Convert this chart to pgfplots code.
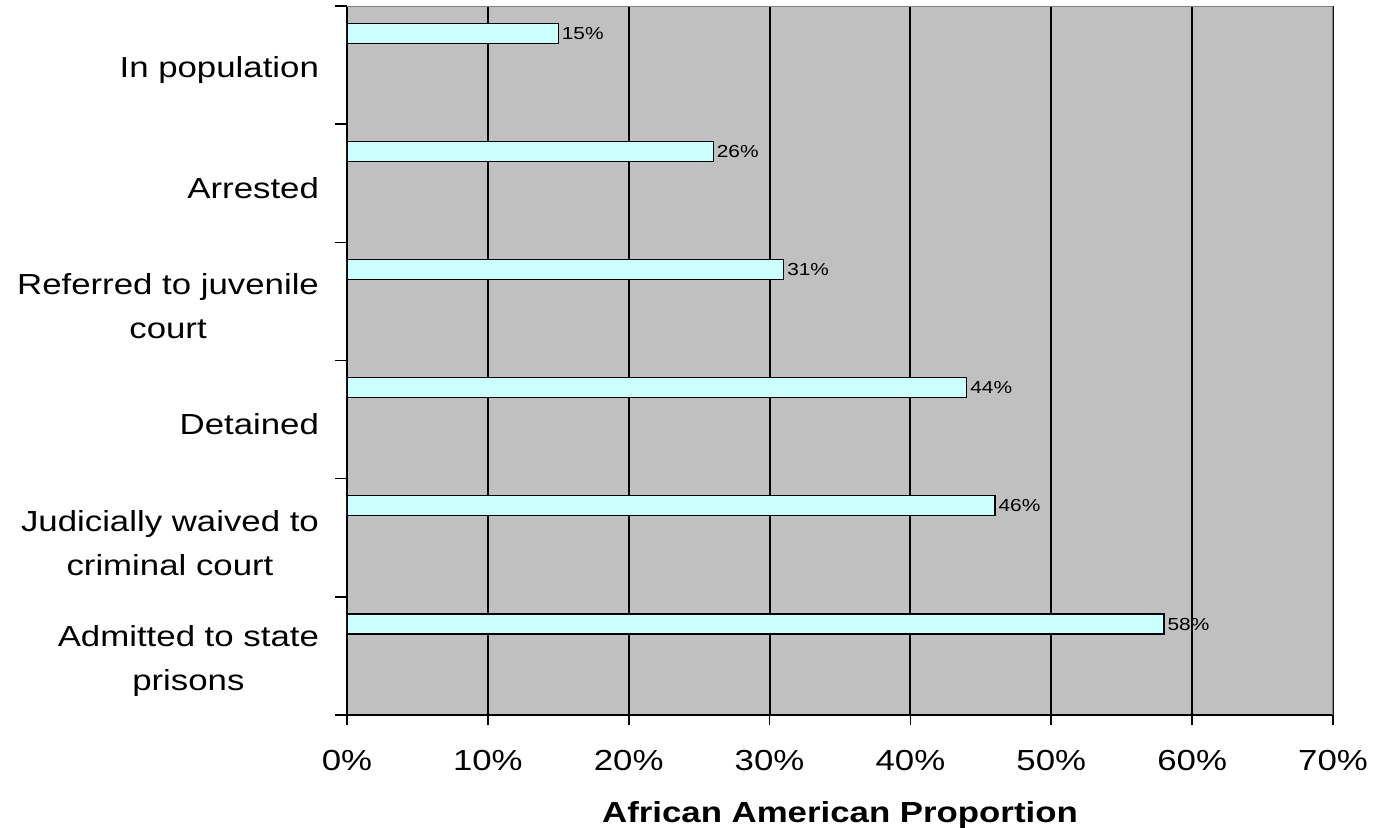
\documentclass[border=0pt]{standalone}
\usepackage{fontspec}
\setmainfont{Liberation Sans}[FakeStretch=1.2]
\usepackage{pgfplots}
\pgfplotsset{compat=1.18}
\definecolor{bgc}{HTML}{C0C0C0}
\definecolor{barc}{HTML}{CCFFFF}
\definecolor{frm}{HTML}{808080}
\begin{document}
\begin{tikzpicture}
\path[use as bounding box] (-173.5pt,-56.5pt) rectangle (513.5pt,357.5pt);
\begin{axis}[
 anchor=south west, at={(0,0)},
 scale only axis, width=493pt, height=354.5pt,
 xmin=0, xmax=70, ymin=0, ymax=6, y dir=reverse,
 axis x line*=bottom, axis y line*=left,
 axis line style={black, line width=1pt, -},
 xtick={0,10,...,70},
 xticklabels={0\%,10\%,20\%,30\%,40\%,50\%,60\%,70\%},
 ytick={0.5,1.5,2.5,3.5,4.5,5.5},
 yticklabels={{In population},{Arrested},{Referred to juvenile\\court},{Detained},{Judicially waived to\\criminal court},{Admitted to state\\prisons}},
 minor ytick={0,1,...,6},
 tick align=outside, major tick length=5pt, minor tick length=6pt,
 tick style={black, line width=0.8pt},
 major y tick style={draw=none},
 xmajorgrids, major grid style={black, line width=1pt},
 axis background/.style={fill=bgc},
 xticklabel style={font=\fontsize{14.5}{17}\selectfont, yshift=-9pt},
 yticklabel style={font=\fontsize{14.5}{22}\selectfont, align=center, xshift=-5.5pt, yshift=-2.5pt},
 xlabel={African American Proportion},
 xlabel style={font=\fontsize{14.5}{17}\selectfont\bfseries, yshift=-8.5pt},
 xbar, bar width=10pt,
 point meta=x,
 nodes near coords={\pgfmathprintnumber[assume math mode=true]{\pgfplotspointmeta}\%},
 every node near coord/.append style={font=\fontsize{8.7}{10}\selectfont, inner sep=1.5pt, black},
]
\addplot[fill=barc, draw=black, line width=0.6pt] coordinates {
 (15,0.23) (26,1.23) (31,2.23) (44,3.23) (46,4.23) (58,5.23)
};
\draw[frm, line width=1pt] (rel axis cs:0,1) -- (rel axis cs:1,1) -- (rel axis cs:1,0);
\end{axis}
\end{tikzpicture}
\end{document}
